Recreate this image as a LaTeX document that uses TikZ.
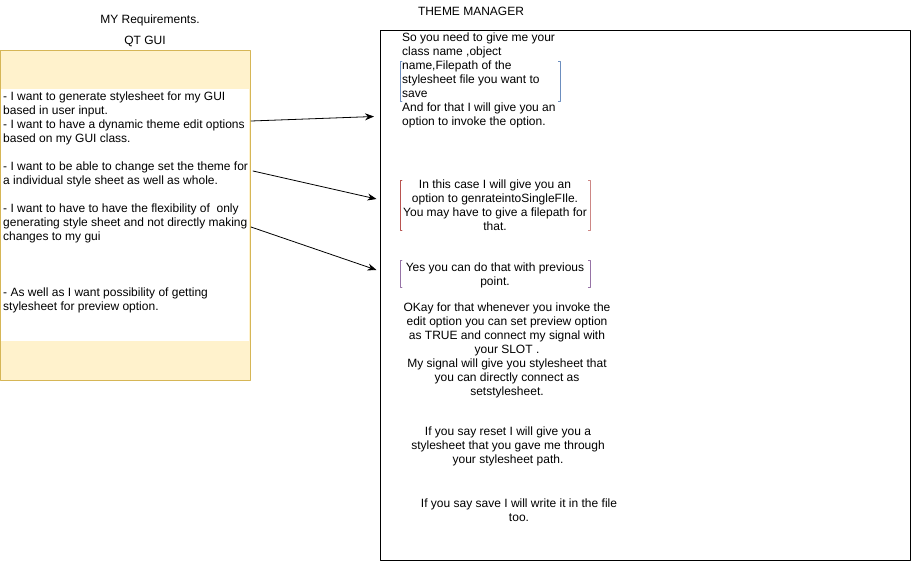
\documentclass[tikz,border=0pt]{standalone}
\usepackage{fontspec}
\setmainfont{Liberation Sans}
\usetikzlibrary{arrows.meta,positioning,calc}
\definecolor{ink}{HTML}{000000}
\definecolor{guifill}{HTML}{FFF2CC}
\definecolor{guiline}{HTML}{D6B656}
\definecolor{bluecol}{HTML}{6C8EBF}
\definecolor{redcol}{HTML}{B85450}
\definecolor{purpcol}{HTML}{9673A6}

\begin{document}
\begin{tikzpicture}[
  x=1pt, y=-1pt, >=Stealth, line cap=round, line join=round,
  font=\fontsize{12}{14}\selectfont,
  ttl/.style={inner sep=0pt, text=ink},
  txt/.style={inner sep=0pt, text=ink, align=left, anchor=north west},
  ctxt/.style={inner sep=0pt, text=ink, align=center, anchor=north},
  brk/.style={draw=none, inner sep=0pt},
  fl/.style={-{Stealth[length=9pt,width=7pt]}, ink, line width=0.8pt}]

\useasboundingbox (0,0) rectangle (911,562);

% ================================================ left: the requirements
\node[ttl] (myreq) at (150,20) {MY Requirements.};
\node[ttl] (qtgui) at (145,41) {QT GUI};
\node[draw=guiline, fill=guifill, line width=0.8pt, minimum width=250pt,
      minimum height=330pt, anchor=north west] (guib) at (0,50) {};
\node[fill=white, minimum width=248pt, minimum height=252pt, inner sep=0pt,
      anchor=north west] (guiw) at (1,89) {};
\node[txt] (reqs) at (3,92)
  {- I want to generate stylesheet for my GUI\\
   based in user input.\\
   - I want to have a dynamic theme edit options\\
   based on my GUI class.\\[14pt]
   - I want to be able to change set the theme for\\
   a individual style sheet as well as whole.\\[14pt]
   - I want to have to have the flexibility of~ only\\
   generating style sheet and not directly making\\
   changes to my gui\\[42pt]
   - As well as I want possibility of getting\\
   stylesheet for preview option.};

% ================================================ right: the theme manager
\node[ttl] (tmgr) at (471,11) {THEME MANAGER};
\node[draw=ink, line width=0.8pt, minimum width=530pt, minimum height=530pt,
      anchor=north west] (mgr) at (380,30) {};

% brackets
\node[brk, minimum width=160pt, minimum height=40pt, anchor=north west] (bblue) at (400,61) {};
\node[brk, minimum width=190pt, minimum height=50pt, anchor=north west] (bred) at (400,180) {};
\node[brk, minimum width=190pt, minimum height=27pt, anchor=north west] (bpurp) at (400,260) {};
\draw[bluecol, line width=0.8pt] ([xshift=2pt]bblue.north west) -- (bblue.north west)
  -- (bblue.south west) -- ([xshift=2pt]bblue.south west);
\draw[bluecol, line width=0.8pt] ([xshift=-2pt]bblue.north east) -- (bblue.north east)
  -- (bblue.south east) -- ([xshift=-2pt]bblue.south east);
\draw[redcol, line width=0.8pt] ([xshift=2pt]bred.north west) -- (bred.north west)
  -- (bred.south west) -- ([xshift=2pt]bred.south west);
\draw[redcol!70, line width=0.8pt] ([xshift=-2pt]bred.north east) -- (bred.north east)
  -- (bred.south east) -- ([xshift=-2pt]bred.south east);
\draw[purpcol, line width=0.8pt] ([xshift=2pt]bpurp.north west) -- (bpurp.north west)
  -- (bpurp.south west) -- ([xshift=2pt]bpurp.south west);
\draw[purpcol, line width=0.8pt] ([xshift=-2pt]bpurp.north east) -- (bpurp.north east)
  -- (bpurp.south east) -- ([xshift=-2pt]bpurp.south east);

% answers
\node[txt] (ans1) at (402,33)
  {So you need to give me your\\
   class name ,object\\
   name,Filepath of the\\
   stylesheet file you want to\\
   save\\
   And for that I will give you an\\
   option to invoke the option.};
\node[ctxt] (ans2) at (495,180)
  {In this case I will give you an\\
   option to genrateintoSingleFIle.\\
   You may have to give a filepath for\\
   that.};
\node[ctxt] (ans3) at (495,263)
  {Yes you can do that with previous\\
   point.};
\node[ctxt] (ans4) at (507,303)
  {OKay for that whenever you invoke the\\
   edit option you can set preview option\\
   as TRUE and connect my signal with\\
   your SLOT .\\
   My signal will give you stylesheet that\\
   you can directly connect as\\
   setstylesheet.};
\node[ctxt] (ans5) at (508,427)
  {If you say reset I will give you a\\
   stylesheet that you gave me through\\
   your stylesheet path.};
\node[ctxt] (ans6) at (519,499)
  {If you say save I will write it in the file\\
   too.};

% ================================================ connectors
\coordinate (s1) at (251,121);
\coordinate (e1) at (374,116.5);
\coordinate (s2) at (253,171);
\coordinate (e2) at (376.5,199);
\coordinate (s3) at (251,227);
\coordinate (e3) at (376.5,270);
\draw[fl] (s1) -- (e1);
\draw[fl] (s2) -- (e2);
\draw[fl] (s3) -- (e3);

\end{tikzpicture}
\end{document}
